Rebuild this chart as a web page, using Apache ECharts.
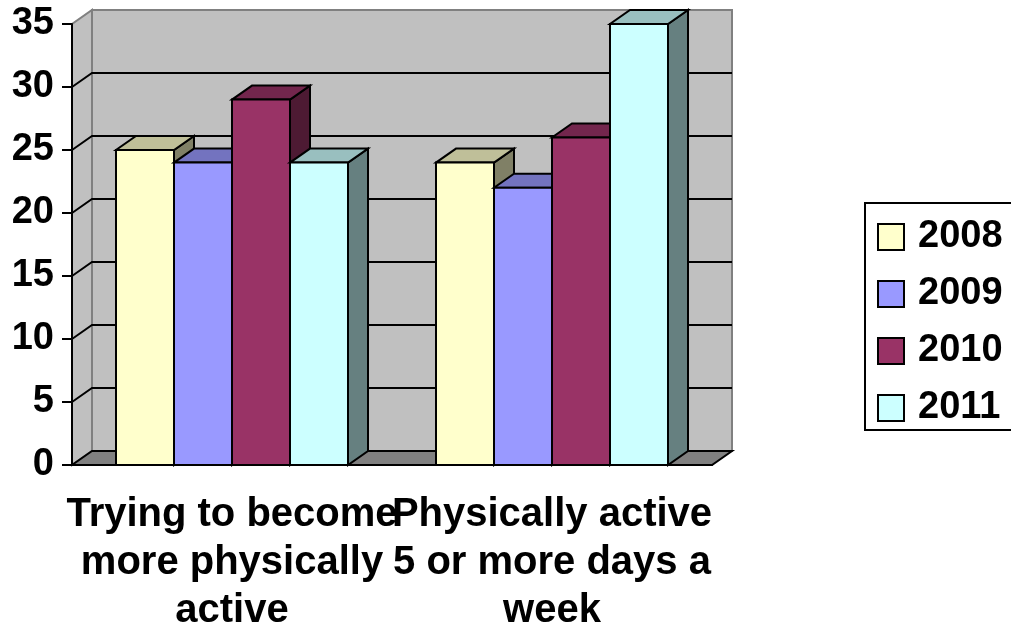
<!DOCTYPE html>
<html>
<head>
<meta charset="utf-8">
<script src="https://cdn.jsdelivr.net/npm/echarts@6/dist/echarts.min.js"></script>
<style>
    html, body { margin: 0; padding: 0; background: #fff; }
    #chart { width: 1011px; height: 630px; }
</style>
</head>
<body>
<div id="chart"></div>
<script type="text/javascript">
    var categories = ['Trying to become\nmore physically\nactive', 'Physically active\n5 or more days a\nweek'];
    var years = ['2008', '2009', '2010', '2011'];
    var values2008 = [25, 24];
    var values2009 = [24, 22];
    var values2010 = [29, 26];
    var values2011 = [24, 35];
    var yTicks = [0, 5, 10, 15, 20, 25, 30, 35];

    // front / top / side colours per year
    var faces = [
        ['#ffffcc', '#bfbf99', '#808066'],
        ['#9999ff', '#7373bf', '#4d4d80'],
        ['#993366', '#73264d', '#4d1a33'],
        ['#ccffff', '#99bfbf', '#668080']
    ];
    var DX = 20, DY = -14;
    var FONT = '"Liberation Sans", Arial, sans-serif';

    var chart = echarts.init(document.getElementById('chart'));

    function renderFrame(params, api) {
        var cs = params.coordSys;
        var x0 = cs.x, x1 = cs.x + cs.width;
        var yb = api.coord([0, 0])[1];
        var yt = api.coord([0, 35])[1];
        var kids = [];
        // back wall
        kids.push({type: 'polygon', shape: {points: [[x0 + DX, yt + DY], [x1 + DX, yt + DY], [x1 + DX, yb + DY], [x0 + DX, yb + DY]]},
            style: {fill: '#c0c0c0', stroke: '#808080', lineWidth: 2}});
        // side wall
        kids.push({type: 'polygon', shape: {points: [[x0, yb], [x0, yt], [x0 + DX, yt + DY], [x0 + DX, yb + DY]]},
            style: {fill: '#c0c0c0', stroke: '#808080', lineWidth: 2}});
        // floor
        kids.push({type: 'polygon', shape: {points: [[x0, yb], [x1, yb], [x1 + DX, yb + DY], [x0 + DX, yb + DY]]},
            style: {fill: '#808080', stroke: '#000', lineWidth: 2}});
        for (var i = 1; i < yTicks.length - 1; i++) {
            var y = api.coord([0, yTicks[i]])[1];
            kids.push({type: 'polyline', shape: {points: [[x0, y], [x0 + DX, y + DY], [x1 + DX, y + DY]]},
                style: {stroke: '#000', lineWidth: 2, fill: null}});
        }
        return {type: 'group', children: kids};
    }

    function makeBarRender(s) {
        return function (params, api) {
            var cat = api.value(0);
            var front = api.coord([cat, api.value(1)]);
            var base = api.coord([cat, 0]);
            var bw = api.size([1, 0])[0] * 0.18125;
            var x = front[0] - 2 * bw + s * bw;
            var yT = front[1], yB = base[1];
            var st = {stroke: '#000', lineWidth: 2};
            return {type: 'group', children: [
                {type: 'polygon', shape: {points: [[x + bw, yT], [x + bw + DX, yT + DY], [x + bw + DX, yB + DY], [x + bw, yB]]},
                    style: Object.assign({fill: faces[s][2]}, st)},
                {type: 'polygon', shape: {points: [[x, yT], [x + bw, yT], [x + bw + DX, yT + DY], [x + DX, yT + DY]]},
                    style: Object.assign({fill: faces[s][1]}, st)},
                {type: 'rect', shape: {x: x, y: yT, width: bw, height: yB - yT},
                    style: Object.assign({fill: faces[s][0]}, st)}
            ]};
        };
    }

    var seriesValues = [values2008, values2009, values2010, values2011];
    var series = [{
        type: 'custom', name: 'frame', silent: true,
        data: [[0, 0]],
        renderItem: renderFrame
    }];
    for (var s = 0; s < years.length; s++) {
        series.push({
            type: 'custom',
            name: years[s],
            itemStyle: {color: faces[s][0]},
            data: seriesValues[s].map(function (v, i) { return [i, v]; }),
            renderItem: makeBarRender(s)
        });
    }

    option = {
        animation: false,
        grid: {left: 72, top: 24, right: 299, bottom: 165, outerBoundsMode: 'none'},
        legend: {
            data: years,
            orient: 'vertical',
            left: 865, top: 203,
            icon: 'rect',
            itemWidth: 26, itemHeight: 26, itemGap: 19,
            padding: [15, 30, 3, 12],
            borderColor: '#000', borderWidth: 2,
            itemStyle: {borderColor: '#000', borderWidth: 2},
            textStyle: {fontFamily: FONT, fontWeight: 'bold', fontSize: 38, lineHeight: 26, color: '#000', padding: [0, 0, 0, 9]}
        },
        xAxis: {
            type: 'category',
            data: categories,
            z: 10,
            axisLine: {lineStyle: {color: '#000', width: 2}},
            axisTick: {length: 10, lineStyle: {color: '#000', width: 2}},
            axisLabel: {interval: 0, margin: 26, fontFamily: FONT, fontWeight: 'bold', fontSize: 40, lineHeight: 48, color: '#000', align: 'center'}
        },
        yAxis: {
            type: 'value', min: 0, max: 35, interval: 5,
            z: 10,
            splitLine: {show: false},
            axisLine: {show: true, lineStyle: {color: '#000', width: 2}},
            axisTick: {show: true, length: 10, lineStyle: {color: '#000', width: 2}},
            axisLabel: {margin: 18, fontFamily: FONT, fontWeight: 'bold', fontSize: 38, color: '#000'}
        },
        series: series
    };
    chart.setOption(option);
</script>
</body>
</html>
